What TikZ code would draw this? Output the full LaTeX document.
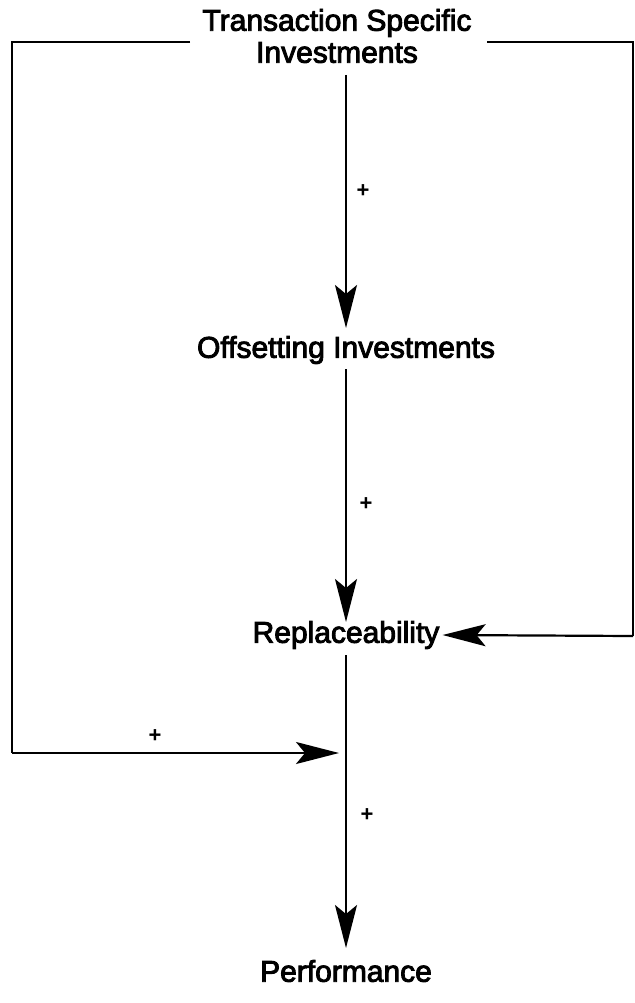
\documentclass[tikz,border=0pt]{standalone}
\usepackage{fontspec}
\setmainfont{Liberation Sans}
\newfontfamily\lblfont{Liberation Sans}[FakeBold=3]
\usetikzlibrary{arrows.meta}
\begin{document}
\begin{tikzpicture}[x=1pt,y=-1pt,
  lbl/.style={font=\lblfont\fontsize{30}{32}\selectfont, inner sep=3pt, align=center},
  pl/.style={font=\fontsize{22}{22}\selectfont\bfseries, inner sep=0pt},
  conn/.style={line width=2.2pt},
  arr/.style={conn, -{Stealth[length=43pt,width=22pt,inset=9pt]}}]
\useasboundingbox (0,0) rectangle (634,1003);
\node[lbl] (tsi) at (337,36) {Transaction Specific\\Investments};
\node[lbl] (off) at (346,350) {Offsetting Investments};
\node[lbl] (rep) at (346,635) {Replaceability};
\node[lbl] (perf) at (346,971) {Performance};
\coordinate (jl) at (339,753);
\coordinate (lc) at (12,42);
\coordinate (lb) at (12,753);
\coordinate (rc) at (633,42);
\coordinate (rb) at (633,636);
\draw[arr] (346,75) -- (346,328);
\draw[arr] (off.south) ++(0,-2pt) -- (346,622);
\draw[arr] (rep.south) ++(0,-3pt) -- (346,948);
\draw[conn] (190,42) -- (lc) -- (lb);
\draw[arr] (lb) -- (jl);
\draw[conn, line width=1.6pt] (487,42) -- (rc) -- (rb);
\draw[arr] (rb) -- (rep.east);
\node[pl] (p1) at (363,191) {+};
\node[pl] (p2) at (366,504) {+};
\node[pl] (p3) at (155,736) {+};
\node[pl] (p4) at (367,815) {+};
\end{tikzpicture}
\end{document}
